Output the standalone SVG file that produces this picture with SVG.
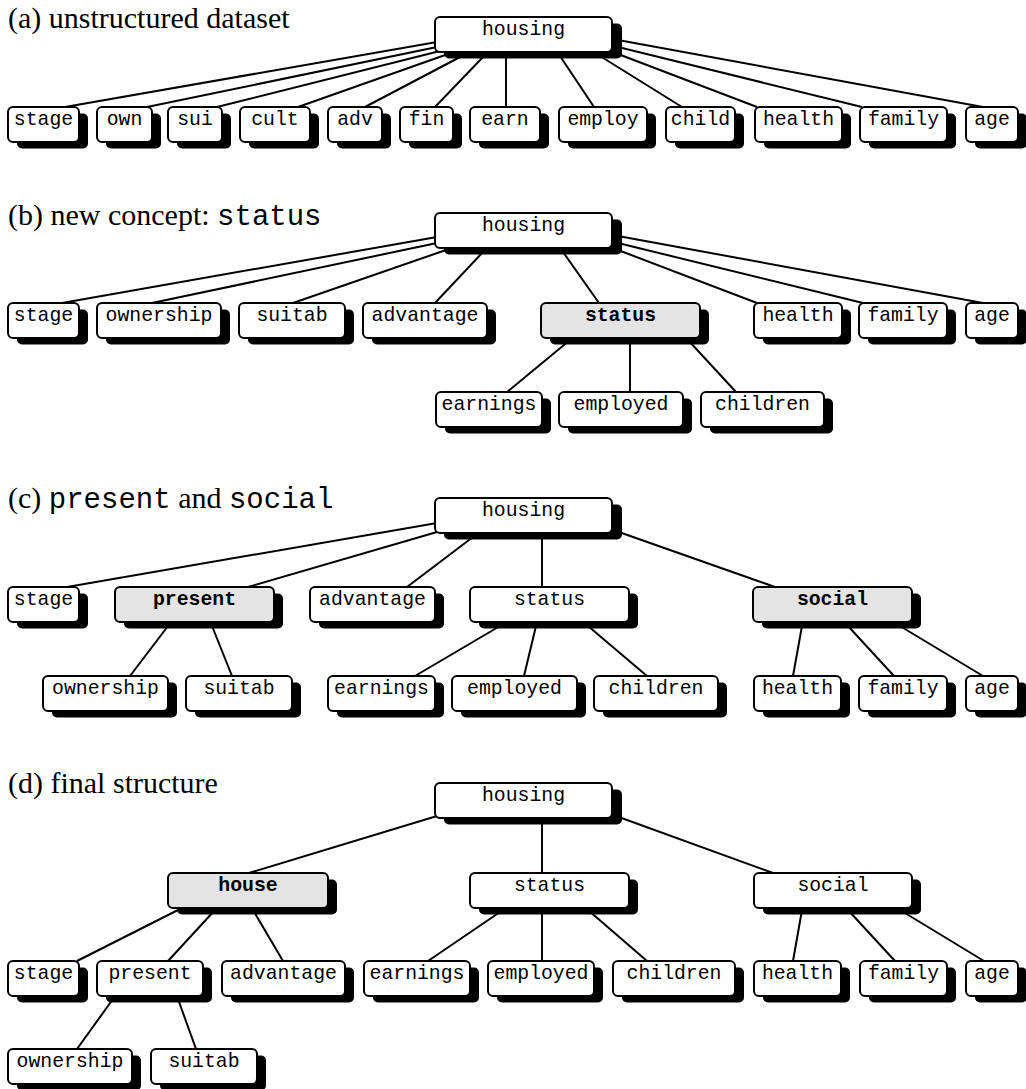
<svg xmlns="http://www.w3.org/2000/svg" width="1026" height="1089" viewBox="0 0 1026 1089">
<style>
.sh{fill:#000}
.bx{fill:#fff;stroke:#000;stroke-width:2}
.g .bx{fill:#e4e4e4}
.t{font-family:"Liberation Mono","Courier New",monospace;font-size:19.8px;text-anchor:middle;fill:#000}
.g .t{font-weight:bold}
.e line{stroke:#000;stroke-width:2}
.title{font-family:"Liberation Serif","Times New Roman",serif;font-size:30px;fill:#000}
.mono{font-family:"Liberation Mono","Courier New",monospace;font-size:29px}
</style>
<rect width="1026" height="1089" fill="#fff"/>
<text class="title" x="8" y="28">(a) unstructured dataset</text>
<text class="title" x="8" y="225">(b) new concept: <tspan class="mono">status</tspan></text>
<text class="title" x="8" y="508">(c) <tspan class="mono">present</tspan> and <tspan class="mono">social</tspan></text>
<text class="title" x="8" y="793">(d) final structure</text>

<g id="connectors" class="e">
<!-- panel a -->
<line x1="437" y1="42" x2="65" y2="107"/>
<line x1="437" y1="47" x2="147" y2="107"/>
<line x1="440" y1="51" x2="217" y2="107"/>
<line x1="448" y1="54" x2="298" y2="107"/>
<line x1="462" y1="56" x2="365" y2="107"/>
<line x1="484" y1="56" x2="435" y2="107"/>
<line x1="506" y1="56" x2="506" y2="107"/>
<line x1="560" y1="56" x2="594" y2="107"/>
<line x1="600" y1="56" x2="682" y2="107"/>
<line x1="618" y1="54" x2="757" y2="107"/>
<line x1="618" y1="47" x2="862" y2="107"/>
<line x1="618" y1="40" x2="983" y2="107"/>
<!-- panel b -->
<line x1="437" y1="237" x2="62" y2="303"/>
<line x1="437" y1="243" x2="152" y2="303"/>
<line x1="446" y1="250" x2="293" y2="303"/>
<line x1="483" y1="252" x2="435" y2="303"/>
<line x1="563" y1="252" x2="599" y2="303"/>
<line x1="618" y1="250" x2="757" y2="303"/>
<line x1="618" y1="243" x2="863" y2="303"/>
<line x1="618" y1="236" x2="983" y2="303"/>
<line x1="570" y1="340" x2="507" y2="392"/>
<line x1="630" y1="340" x2="630" y2="392"/>
<line x1="688" y1="340" x2="736" y2="392"/>
<!-- panel c -->
<line x1="437" y1="523" x2="67" y2="587"/>
<line x1="437" y1="532" x2="248" y2="587"/>
<line x1="473" y1="537" x2="407" y2="587"/>
<line x1="542" y1="537" x2="542" y2="587"/>
<line x1="616" y1="531" x2="775" y2="587"/>
<line x1="168" y1="626" x2="130" y2="676"/>
<line x1="212" y1="626" x2="232" y2="676"/>
<line x1="500" y1="626" x2="415" y2="676"/>
<line x1="536" y1="626" x2="524" y2="676"/>
<line x1="588" y1="626" x2="647" y2="676"/>
<line x1="802" y1="626" x2="793" y2="676"/>
<line x1="848" y1="626" x2="894" y2="676"/>
<line x1="900" y1="626" x2="983" y2="676"/>
<!-- panel d -->
<line x1="437" y1="816" x2="249" y2="873"/>
<line x1="542" y1="817" x2="542" y2="873"/>
<line x1="616" y1="816" x2="773" y2="873"/>
<line x1="178" y1="910" x2="77" y2="961"/>
<line x1="215" y1="910" x2="168" y2="961"/>
<line x1="253" y1="910" x2="283" y2="961"/>
<line x1="503" y1="910" x2="428" y2="961"/>
<line x1="542" y1="910" x2="542" y2="961"/>
<line x1="588" y1="910" x2="647" y2="961"/>
<line x1="802" y1="910" x2="793" y2="961"/>
<line x1="848" y1="910" x2="895" y2="961"/>
<line x1="900" y1="910" x2="984" y2="961"/>
<line x1="113" y1="999" x2="77" y2="1049"/>
<line x1="178" y1="999" x2="196" y2="1049"/>
</g>

<!-- panel a nodes -->
<g id="a-housing"><rect class="sh" x="444" y="23.5" width="178" height="35" rx="5"/><rect class="bx" x="435" y="17" width="177" height="35" rx="5"/><text class="t" x="523.5" y="35">housing</text></g>
<g id="a-stage"><rect class="sh" x="17" y="113.5" width="71" height="35" rx="5"/><rect class="bx" x="8" y="107" width="71" height="35" rx="5"/><text class="t" x="43.5" y="125">stage</text></g>
<g id="a-own"><rect class="sh" x="106" y="113.5" width="55" height="35" rx="5"/><rect class="bx" x="97" y="107" width="55" height="35" rx="5"/><text class="t" x="124.5" y="125">own</text></g>
<g id="a-sui"><rect class="sh" x="177" y="113.5" width="54" height="35" rx="5"/><rect class="bx" x="168" y="107" width="54" height="35" rx="5"/><text class="t" x="195" y="125">sui</text></g>
<g id="a-cult"><rect class="sh" x="249" y="113.5" width="70" height="35" rx="5"/><rect class="bx" x="240" y="107" width="70" height="35" rx="5"/><text class="t" x="275" y="125">cult</text></g>
<g id="a-adv"><rect class="sh" x="337" y="113.5" width="54" height="35" rx="5"/><rect class="bx" x="328" y="107" width="54" height="35" rx="5"/><text class="t" x="355" y="125">adv</text></g>
<g id="a-fin"><rect class="sh" x="409" y="113.5" width="53" height="35" rx="5"/><rect class="bx" x="400" y="107" width="53" height="35" rx="5"/><text class="t" x="426.5" y="125">fin</text></g>
<g id="a-earn"><rect class="sh" x="479" y="113.5" width="70" height="35" rx="5"/><rect class="bx" x="470" y="107" width="70" height="35" rx="5"/><text class="t" x="505" y="125">earn</text></g>
<g id="a-employ"><rect class="sh" x="568" y="113.5" width="88" height="35" rx="5"/><rect class="bx" x="559" y="107" width="88" height="35" rx="5"/><text class="t" x="603" y="125">employ</text></g>
<g id="a-child"><rect class="sh" x="675" y="113.5" width="69" height="35" rx="5"/><rect class="bx" x="666" y="107" width="69" height="35" rx="5"/><text class="t" x="700.5" y="125">child</text></g>
<g id="a-health"><rect class="sh" x="764" y="113.5" width="87" height="35" rx="5"/><rect class="bx" x="755" y="107" width="87" height="35" rx="5"/><text class="t" x="798.5" y="125">health</text></g>
<g id="a-family"><rect class="sh" x="869" y="113.5" width="87" height="35" rx="5"/><rect class="bx" x="860" y="107" width="87" height="35" rx="5"/><text class="t" x="903.5" y="125">family</text></g>
<g id="a-age"><rect class="sh" x="975" y="113.5" width="52" height="35" rx="5"/><rect class="bx" x="966" y="107" width="52" height="35" rx="5"/><text class="t" x="992" y="125">age</text></g>

<!-- panel b nodes -->
<g id="b-housing"><rect class="sh" x="444" y="219.5" width="178" height="35" rx="5"/><rect class="bx" x="435" y="213" width="177" height="35" rx="5"/><text class="t" x="523.5" y="231">housing</text></g>
<g id="b-stage"><rect class="sh" x="17" y="309.5" width="71" height="35" rx="5"/><rect class="bx" x="8" y="303" width="71" height="35" rx="5"/><text class="t" x="43.5" y="321">stage</text></g>
<g id="b-ownership"><rect class="sh" x="106" y="309.5" width="124" height="35" rx="5"/><rect class="bx" x="97" y="303" width="124" height="35" rx="5"/><text class="t" x="159" y="321">ownership</text></g>
<g id="b-suitab"><rect class="sh" x="248" y="309.5" width="106" height="35" rx="5"/><rect class="bx" x="239" y="303" width="106" height="35" rx="5"/><text class="t" x="292" y="321">suitab</text></g>
<g id="b-advantage"><rect class="sh" x="372" y="309.5" width="124" height="35" rx="5"/><rect class="bx" x="363" y="303" width="124" height="35" rx="5"/><text class="t" x="425" y="321">advantage</text></g>
<g id="b-status" class="g"><rect class="sh" x="550" y="309.5" width="159" height="35" rx="5"/><rect class="bx" x="541" y="303" width="159" height="35" rx="5"/><text class="t" x="620.5" y="321">status</text></g>
<g id="b-health"><rect class="sh" x="763" y="309.5" width="88" height="35" rx="5"/><rect class="bx" x="754" y="303" width="88" height="35" rx="5"/><text class="t" x="798" y="321">health</text></g>
<g id="b-family"><rect class="sh" x="868" y="309.5" width="88" height="35" rx="5"/><rect class="bx" x="859" y="303" width="88" height="35" rx="5"/><text class="t" x="903" y="321">family</text></g>
<g id="b-age"><rect class="sh" x="975" y="309.5" width="52" height="35" rx="5"/><rect class="bx" x="966" y="303" width="52" height="35" rx="5"/><text class="t" x="992" y="321">age</text></g>
<g id="b-earnings"><rect class="sh" x="445" y="398.5" width="106" height="35" rx="5"/><rect class="bx" x="436" y="392" width="106" height="35" rx="5"/><text class="t" x="489" y="410">earnings</text></g>
<g id="b-employed"><rect class="sh" x="568" y="398.5" width="124" height="35" rx="5"/><rect class="bx" x="559" y="392" width="124" height="35" rx="5"/><text class="t" x="621" y="410">employed</text></g>
<g id="b-children"><rect class="sh" x="710" y="398.5" width="123" height="35" rx="5"/><rect class="bx" x="701" y="392" width="123" height="35" rx="5"/><text class="t" x="762.5" y="410">children</text></g>

<!-- panel c nodes -->
<g id="c-housing"><rect class="sh" x="444" y="504.5" width="178" height="35" rx="5"/><rect class="bx" x="435" y="498" width="177" height="35" rx="5"/><text class="t" x="523.5" y="516">housing</text></g>
<g id="c-stage"><rect class="sh" x="17" y="593.5" width="71" height="35" rx="5"/><rect class="bx" x="8" y="587" width="71" height="35" rx="5"/><text class="t" x="43.5" y="605">stage</text></g>
<g id="c-present" class="g"><rect class="sh" x="124" y="593.5" width="159" height="35" rx="5"/><rect class="bx" x="115" y="587" width="159" height="35" rx="5"/><text class="t" x="194.5" y="605">present</text></g>
<g id="c-advantage"><rect class="sh" x="319" y="593.5" width="125" height="35" rx="5"/><rect class="bx" x="310" y="587" width="125" height="35" rx="5"/><text class="t" x="372.5" y="605">advantage</text></g>
<g id="c-status"><rect class="sh" x="479" y="593.5" width="159" height="35" rx="5"/><rect class="bx" x="470" y="587" width="159" height="35" rx="5"/><text class="t" x="549.5" y="605">status</text></g>
<g id="c-social" class="g"><rect class="sh" x="762" y="593.5" width="159" height="35" rx="5"/><rect class="bx" x="753" y="587" width="159" height="35" rx="5"/><text class="t" x="832.5" y="605">social</text></g>
<g id="c-ownership"><rect class="sh" x="52" y="682.5" width="125" height="35" rx="5"/><rect class="bx" x="43" y="676" width="125" height="35" rx="5"/><text class="t" x="105.5" y="694">ownership</text></g>
<g id="c-suitab"><rect class="sh" x="195" y="682.5" width="106" height="35" rx="5"/><rect class="bx" x="186" y="676" width="106" height="35" rx="5"/><text class="t" x="239" y="694">suitab</text></g>
<g id="c-earnings"><rect class="sh" x="337" y="682.5" width="107" height="35" rx="5"/><rect class="bx" x="328" y="676" width="107" height="35" rx="5"/><text class="t" x="381.5" y="694">earnings</text></g>
<g id="c-employed"><rect class="sh" x="461" y="682.5" width="125" height="35" rx="5"/><rect class="bx" x="452" y="676" width="125" height="35" rx="5"/><text class="t" x="514.5" y="694">employed</text></g>
<g id="c-children"><rect class="sh" x="603" y="682.5" width="124" height="35" rx="5"/><rect class="bx" x="594" y="676" width="124" height="35" rx="5"/><text class="t" x="656" y="694">children</text></g>
<g id="c-health"><rect class="sh" x="763" y="682.5" width="87" height="35" rx="5"/><rect class="bx" x="754" y="676" width="87" height="35" rx="5"/><text class="t" x="797.5" y="694">health</text></g>
<g id="c-family"><rect class="sh" x="868" y="682.5" width="88" height="35" rx="5"/><rect class="bx" x="859" y="676" width="88" height="35" rx="5"/><text class="t" x="903" y="694">family</text></g>
<g id="c-age"><rect class="sh" x="975" y="682.5" width="52" height="35" rx="5"/><rect class="bx" x="966" y="676" width="52" height="35" rx="5"/><text class="t" x="992" y="694">age</text></g>

<!-- panel d nodes -->
<g id="d-housing"><rect class="sh" x="444" y="789.5" width="178" height="35" rx="5"/><rect class="bx" x="435" y="783" width="177" height="35" rx="5"/><text class="t" x="523.5" y="801">housing</text></g>
<g id="d-house" class="g"><rect class="sh" x="177" y="879.5" width="160" height="35" rx="5"/><rect class="bx" x="168" y="873" width="160" height="35" rx="5"/><text class="t" x="248" y="891">house</text></g>
<g id="d-status"><rect class="sh" x="479" y="879.5" width="159" height="35" rx="5"/><rect class="bx" x="470" y="873" width="159" height="35" rx="5"/><text class="t" x="549.5" y="891">status</text></g>
<g id="d-social"><rect class="sh" x="763" y="879.5" width="158" height="35" rx="5"/><rect class="bx" x="754" y="873" width="158" height="35" rx="5"/><text class="t" x="833" y="891">social</text></g>
<g id="d-stage"><rect class="sh" x="17" y="967.5" width="71" height="35" rx="5"/><rect class="bx" x="8" y="961" width="71" height="35" rx="5"/><text class="t" x="43.5" y="979">stage</text></g>
<g id="d-present"><rect class="sh" x="106" y="967.5" width="106" height="35" rx="5"/><rect class="bx" x="97" y="961" width="106" height="35" rx="5"/><text class="t" x="150" y="979">present</text></g>
<g id="d-advantage"><rect class="sh" x="231" y="967.5" width="123" height="35" rx="5"/><rect class="bx" x="222" y="961" width="123" height="35" rx="5"/><text class="t" x="283.5" y="979">advantage</text></g>
<g id="d-earnings"><rect class="sh" x="373" y="967.5" width="106" height="35" rx="5"/><rect class="bx" x="364" y="961" width="106" height="35" rx="5"/><text class="t" x="417" y="979">earnings</text></g>
<g id="d-employed"><rect class="sh" x="497" y="967.5" width="106" height="35" rx="5"/><rect class="bx" x="488" y="961" width="106" height="35" rx="5"/><text class="t" x="541" y="979">employed</text></g>
<g id="d-children"><rect class="sh" x="622" y="967.5" width="122" height="35" rx="5"/><rect class="bx" x="613" y="961" width="122" height="35" rx="5"/><text class="t" x="674" y="979">children</text></g>
<g id="d-health"><rect class="sh" x="763" y="967.5" width="87" height="35" rx="5"/><rect class="bx" x="754" y="961" width="87" height="35" rx="5"/><text class="t" x="797.5" y="979">health</text></g>
<g id="d-family"><rect class="sh" x="869" y="967.5" width="87" height="35" rx="5"/><rect class="bx" x="860" y="961" width="87" height="35" rx="5"/><text class="t" x="903.5" y="979">family</text></g>
<g id="d-age"><rect class="sh" x="975" y="967.5" width="52" height="35" rx="5"/><rect class="bx" x="966" y="961" width="52" height="35" rx="5"/><text class="t" x="992" y="979">age</text></g>
<g id="d-ownership"><rect class="sh" x="17" y="1055.5" width="124" height="35" rx="5"/><rect class="bx" x="8" y="1049" width="124" height="35" rx="5"/><text class="t" x="70" y="1067">ownership</text></g>
<g id="d-suitab"><rect class="sh" x="160" y="1055.5" width="106" height="35" rx="5"/><rect class="bx" x="151" y="1049" width="106" height="35" rx="5"/><text class="t" x="204" y="1067">suitab</text></g>
</svg>
